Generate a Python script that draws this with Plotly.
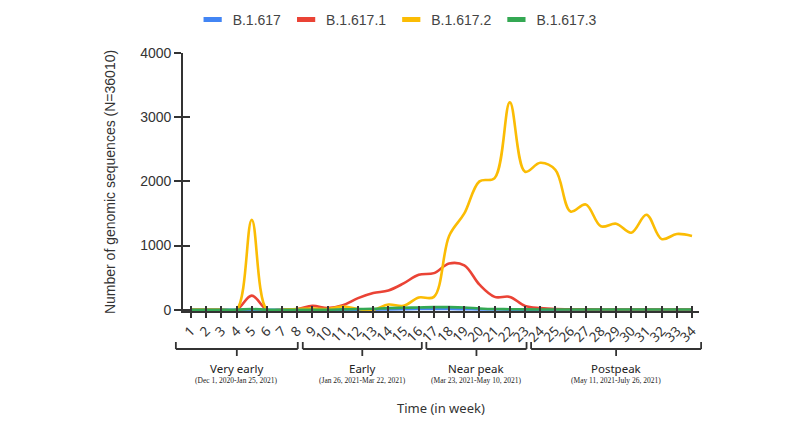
import plotly.graph_objects as go

# ---------------- data ----------------
weeks = list(range(1, 35))
week_labels = [str(w) for w in weeks]

b1617 = [0, 0, 0, 0, 0, 0, 0, 0, 0, 0, 0, 0, 2, 5, 8, 10, 10, 10, 8, 6,
         4, 2, 1, 0, 0, 0, 0, 0, 0, 0, 0, 0, 0, 0]
b16171 = [0, 0, 0, 0, 220, 0, 0, 10, 60, 25, 70, 180, 260, 300, 410, 545, 570, 720, 690, 390,
          200, 200, 60, 25, 10, 8, 5, 3, 3, 3, 3, 3, 3, 3]
b16172 = [0, 0, 0, 0, 1400, 0, 0, 10, 20, 10, 50, 10, 0, 80, 60, 190, 200, 1150, 1500, 2000,
          2050, 3230, 2150, 2290, 2180, 1530, 1640, 1300, 1340, 1200, 1480, 1100, 1180, 1150]
b16173 = [0, 0, 0, 0, 10, 0, 0, 0, 0, 0, 5, 10, 15, 25, 30, 35, 40, 40, 35, 20,
          10, 8, 5, 3, 3, 3, 3, 3, 3, 3, 3, 3, 3, 3]

series_names = ["B.1.617", "B.1.617.1", "B.1.617.2", "B.1.617.3"]
series_values = [b1617, b16171, b16172, b16173]
series_colors = ["#4285F4", "#EA4335", "#FBBC04", "#34A853"]

y_ticks = [0, 1000, 2000, 3000, 4000]

group_names = ["Very early", "Early", "Near peak", "Postpeak"]
group_periods = ["(Dec 1, 2020-Jan 25, 2021)", "(Jan 26, 2021-Mar 22, 2021)",
                 "(Mar 23, 2021-May 10, 2021)", "(May 11, 2021-July 26, 2021)"]
# bracket extents along the week axis (layout decoration)
group_spans = [(0.0, 8.03), (8.36, 16.2), (16.5, 23.1), (23.4, 34.6)]

# ---------------- figure ----------------
AX = "#333333"
X_RANGE = [0.47, 34.46]
Y_RANGE = [-20, 4000]

fig = go.Figure()
for name, vals, col in zip(series_names, series_values, series_colors):
    fig.add_trace(go.Scatter(
        x=weeks, y=vals, mode="lines", name=name,
        line=dict(color=col, width=2.6, shape="spline", smoothing=1.0),
        showlegend=False, hoverinfo="x+y+name"))
# legend swatches (short thick bars like the reference)
for name, col in zip(series_names, series_colors):
    fig.add_trace(go.Scatter(
        x=[None], y=[None], mode="markers", name=name,
        marker=dict(symbol="line-ew", size=13, line=dict(color=col, width=5)),
        showlegend=True))

def px_x(w):
    return (w - X_RANGE[0]) / (X_RANGE[1] - X_RANGE[0])

PLOT_H = 258.0
def py(pix):
    # page pixel y -> paper y; plot bottom sits at page y 311
    return (311.0 - pix) / PLOT_H

shapes = []
annotations = []
for (a, b), gname, gper in zip(group_spans, group_names, group_periods):
    xa, xb = px_x(a), px_x(b)
    xm = (xa + xb) / 2
    line = dict(color=AX, width=1.8)
    shapes.append(dict(type="line", xref="paper", yref="paper", x0=xa, x1=xb,
                       y0=py(349), y1=py(349), line=line))
    shapes.append(dict(type="line", xref="paper", yref="paper", x0=xa, x1=xa,
                       y0=py(349), y1=py(342), line=line))
    shapes.append(dict(type="line", xref="paper", yref="paper", x0=xb, x1=xb,
                       y0=py(349), y1=py(342), line=line))
    shapes.append(dict(type="line", xref="paper", yref="paper", x0=xm, x1=xm,
                       y0=py(349), y1=py(356), line=line))
    annotations.append(dict(xref="paper", yref="paper", x=xm, y=py(368), text=gname,
                            showarrow=False, xanchor="center", yanchor="middle",
                            font=dict(family="Noto Sans, Arial", size=11.5, color="#222")))
    annotations.append(dict(xref="paper", yref="paper", x=xm, y=py(380), text=gper,
                            showarrow=False, xanchor="center", yanchor="middle",
                            font=dict(family="Liberation Serif, Times New Roman", size=7.5, color="#222")))

annotations.append(dict(xref="paper", yref="paper", x=0.5, y=py(408), text="Time (in week)",
                        showarrow=False, xanchor="center", yanchor="middle",
                        font=dict(family="Noto Sans, Arial", size=13, color="#333")))

# page body has an 8px margin, so the figure is sized to fit inside the window
fig.update_layout(
    width=784, height=410,
    margin=dict(l=175, r=93, t=45, b=107, autoexpand=False),
    paper_bgcolor="white", plot_bgcolor="white",
    showlegend=True,
    legend=dict(orientation="h", x=0.415, xanchor="center", y=1.128, yanchor="middle",
                font=dict(family="Liberation Sans, Arial", size=14, color="#444"),
                itemwidth=30, bgcolor="rgba(0,0,0,0)"),
    xaxis=dict(range=X_RANGE, tickmode="array", tickvals=weeks, ticktext=week_labels,
               tickangle=-45, ticks="outside", ticklen=5, tickwidth=1.5, tickcolor=AX,
               showline=True, linecolor=AX, linewidth=1.8, showgrid=False, zeroline=False,
               tickfont=dict(family="Noto Sans, Arial", size=13.5, color="#333"),
               fixedrange=True),
    xaxis2=dict(range=X_RANGE, overlaying="x", side="bottom", tickmode="array", tickvals=weeks,
                showticklabels=False, ticks="inside", ticklen=5, tickwidth=1.5, tickcolor=AX,
                showline=False, showgrid=False, zeroline=False, fixedrange=True),
    yaxis=dict(range=Y_RANGE, tickmode="array", tickvals=y_ticks, ticks="outside",
               ticklen=7, tickwidth=1.5, tickcolor=AX, showline=True, linecolor=AX,
               linewidth=1.8, showgrid=False, zeroline=False,
               tickfont=dict(family="Liberation Sans, Arial", size=14, color="#333"),
               title=dict(text="Number of genomic sequences (N=36010)", standoff=21,
                          font=dict(family="Liberation Sans, Arial", size=14, color="#333")),
               fixedrange=True),
    yaxis2=dict(range=Y_RANGE, overlaying="y", side="left", tickmode="array", tickvals=y_ticks,
                showticklabels=False, ticks="inside", ticklen=7, tickwidth=1.5, tickcolor=AX,
                showline=False, showgrid=False, zeroline=False, fixedrange=True),
    shapes=shapes,
    annotations=annotations,
)
# a dummy trace so the second (tick-only) axes get drawn
fig.add_trace(go.Scatter(x=[None], y=[None], xaxis="x2", yaxis="y2", showlegend=False,
                         hoverinfo="skip"))

fig.write_html("out.html")
